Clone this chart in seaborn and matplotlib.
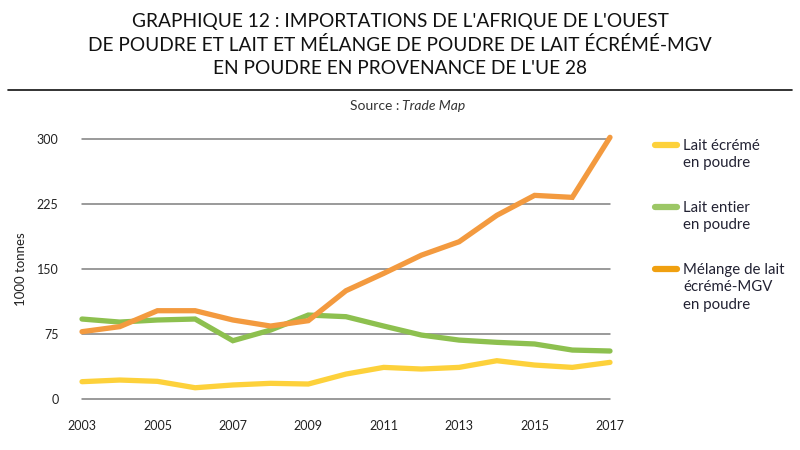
import numpy as np
import pandas as pd
import matplotlib
matplotlib.use("Agg")
import matplotlib.pyplot as plt
from matplotlib.lines import Line2D
import seaborn as sns

years = list(range(2003, 2018))
lait_ecreme = [20, 21.9, 20.4, 13, 16.2, 18.1, 17.3, 28.8, 36.5, 34.6, 36.5, 44.2, 39.2, 36.5, 42.3]
lait_entier = [92.3, 88.8, 91.2, 92.3, 67.3, 79.6, 96.9, 95, 84.2, 73.8, 68, 65.4, 63.5, 56.5, 55.4]
melange = [77.7, 83.5, 101.9, 101.9, 91.2, 84.2, 90.4, 125, 145, 166, 181.5, 212, 235, 232.7, 302]
series_names = ["Lait écrémé\nen poudre", "Lait entier\nen poudre", "Mélange de lait\nécrémé-MGV\nen poudre"]
colors = ["#FDD13B", "#8DC04F", "#F39A3F"]
legend_colors = ["#FDD13B", "#9CC766", "#F0A010"]
yticks = [0, 75, 150, 225, 300]
xticks = [2003, 2005, 2007, 2009, 2011, 2013, 2015, 2017]
title_lines = ["GRAPHIQUE 12 : IMPORTATIONS DE L'AFRIQUE DE L'OUEST",
               "DE POUDRE ET LAIT ET MÉLANGE DE POUDRE DE LAIT ÉCRÉMÉ-MGV",
               "EN POUDRE EN PROVENANCE DE L'UE 28"]

df = pd.DataFrame({
    "year": years * 3,
    "value": lait_ecreme + lait_entier + melange,
    "serie": [series_names[0]] * len(years) + [series_names[1]] * len(years) + [series_names[2]] * len(years),
})

sns.set_theme(style="white")
plt.rcParams["font.family"] = ["Lato", "DejaVu Sans"]

fig = plt.figure(figsize=(8, 4.5), dpi=100)
ax = fig.add_axes([0.1025, 0.1133, 0.66, 0.5777])

for y in yticks:
    ax.axhline(y, color="#7f7f7f", lw=1.1, zorder=1)

sns.lineplot(data=df, x="year", y="value", hue="serie", palette=dict(zip(series_names, colors)),
             linewidth=3.8, legend=False, ax=ax, zorder=3)
for ln in ax.get_lines():
    ln.set_clip_on(False)
    ln.set_solid_joinstyle("miter")

ax.set_xlim(2003, 2017)
ax.set_ylim(0, 300)
ax.set_yticks(yticks)
ax.set_yticklabels([str(v) for v in yticks], fontsize=9, color="#222222")
ax.set_xticks(xticks)
ax.set_xticklabels([str(v) for v in xticks], fontsize=9, color="#222222")
ax.tick_params(axis="x", length=0, pad=15)
ax.tick_params(axis="y", length=0, pad=17)
for s in ax.spines.values():
    s.set_visible(False)
ax.set_xlabel("")
ax.set_ylabel("1000 tonnes", fontsize=9.5, color="#222222")
ax.yaxis.set_label_coords(-0.105, 0.5)

# Title, rule, source
for line, py in zip(title_lines, [22, 45, 68]):
    fig.text(0.5, 1 - py / 450, line, ha="center", va="center", fontsize=13.8, color="#111111")
fig.add_artist(Line2D([8 / 800, 792 / 800], [1 - 90 / 450, 1 - 90 / 450], color="#111111", lw=1.2))
fig.text(0.503, 1 - 106 / 450, "Source : ", ha="right", va="center", fontsize=10, color="#333333")
fig.text(0.503, 1 - 106 / 450, "Trade Map", ha="left", va="center", fontsize=10, color="#333333", style="italic")

# Legend
leg_y = [145, 207, 269]
for name, c, yy in zip(series_names, legend_colors, leg_y):
    fig.add_artist(Line2D([655 / 800, 677 / 800], [1 - yy / 450, 1 - yy / 450], color=c, lw=4.5))
    fig.text(683 / 800, 1 - (yy - 6) / 450, name, ha="left", va="top", fontsize=10.8,
             color="#222233", linespacing=1.3)

fig.savefig("out.png", dpi=100, facecolor="white")
